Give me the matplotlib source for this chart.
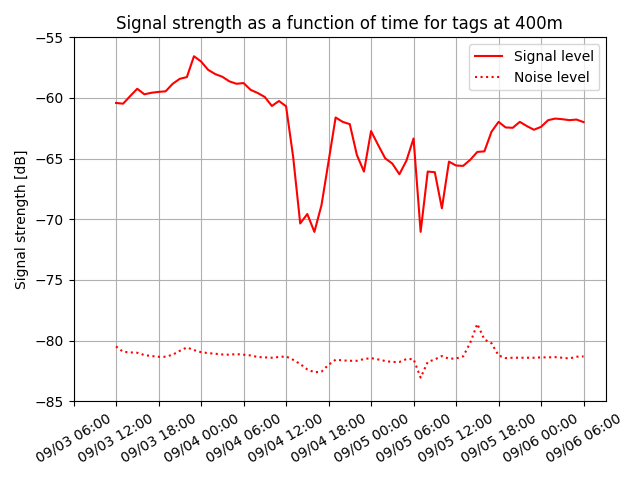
import matplotlib
matplotlib.use("Agg")
import matplotlib.pyplot as plt
import matplotlib.dates as mdates
import pandas as pd
import numpy as np

start = pd.Timestamp("2021-09-03 12:00")
signal = [-60.41, -60.47, -59.84, -59.24, -59.70, -59.57, -59.50, -59.45, -58.83, -58.42,
          -58.28, -56.56, -56.99, -57.68, -58.03, -58.25, -58.63, -58.83, -58.77, -59.33,
          -59.59, -59.92, -60.66, -60.25, -60.68, -64.84, -70.35, -69.57, -71.04, -68.85,
          -65.25, -61.61, -61.97, -62.16, -64.70, -66.07, -62.73, -63.88, -64.98, -65.41,
          -66.29, -65.16, -63.34, -71.04, -66.07, -66.12, -69.10, -65.25, -65.57, -65.60,
          -65.10, -64.45, -64.40, -62.79, -61.97, -62.43, -62.46, -61.97, -62.32, -62.62,
          -62.38, -61.83, -61.70, -61.75, -61.83, -61.78, -61.99]
noise = [-80.49, -80.93, -80.98, -81.01, -81.20, -81.28, -81.34, -81.34, -81.17, -80.85,
         -80.57, -80.79, -80.96, -81.04, -81.09, -81.15, -81.17, -81.12, -81.17, -81.23,
         -81.36, -81.39, -81.42, -81.36, -81.31, -81.59, -81.94, -82.38, -82.62, -82.57,
         -82.00, -81.58, -81.64, -81.67, -81.67, -81.53, -81.45, -81.56, -81.69, -81.77,
         -81.77, -81.53, -81.53, -83.06, -81.77, -81.56, -81.28, -81.50, -81.48, -81.31,
         -80.19, -78.63, -79.92, -80.22, -81.23, -81.45, -81.42, -81.42, -81.42, -81.42,
         -81.39, -81.39, -81.37, -81.42, -81.48, -81.34, -81.31]
times = pd.date_range(start, periods=len(signal), freq="h")

fig, ax = plt.subplots(figsize=(6.4, 4.8), dpi=100)
ax.plot(times, signal, color="red", linestyle="-", label="Signal level")
ax.plot(times, noise, color="red", linestyle=":", label="Noise level")
ax.set_title("Signal strength as a function of time for tags at 400m")
ax.set_ylabel("Signal strength [dB]")
ax.set_ylim(-85, -55)
ax.set_xlim(times[0] - pd.Timedelta(hours=6), times[-1] + pd.Timedelta(hours=3.2))
ax.xaxis.set_major_locator(mdates.HourLocator(byhour=[0, 6, 12, 18]))
ax.xaxis.set_major_formatter(mdates.DateFormatter("%m/%d %H:%M"))
plt.setp(ax.get_xticklabels(), rotation=30)
ax.grid(True)
ax.legend(loc="upper right")
fig.tight_layout()
fig.savefig("out.png", dpi=100)
